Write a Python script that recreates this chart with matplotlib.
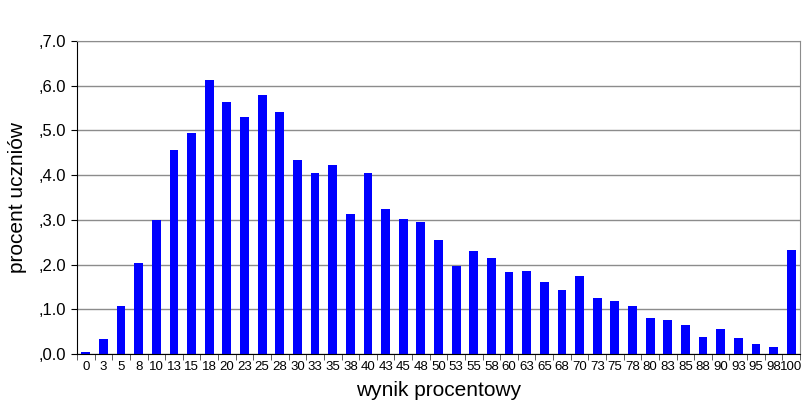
import numpy as np
import matplotlib
matplotlib.use("Agg")
import matplotlib.pyplot as plt

plt.rcParams['font.family'] = ['Liberation Sans', 'DejaVu Sans']

# wynik procentowy (score categories) and percent of students
wynik = ["0","3","5","8","10","13","15","18","20","23","25","28","30","33","35",
         "38","40","43","45","48","50","53","55","58","60","63","65","68","70",
         "73","75","78","80","83","85","88","90","93","95","98","100"]
procent = [0.05,0.34,1.07,2.04,3.00,4.57,4.94,6.12,5.63,5.31,5.80,5.41,4.33,4.05,4.23,
           3.13,4.04,3.25,3.03,2.96,2.56,1.97,2.30,2.14,1.83,1.86,1.60,1.43,1.75,
           1.26,1.18,1.07,0.81,0.77,0.64,0.37,0.57,0.35,0.22,0.15,2.33]
yticks = [0,1,2,3,4,5,6,7]
ytick_labels = [",0.0",",1.0",",2.0",",3.0",",4.0",",5.0",",6.0",",7.0"]

fig = plt.figure(figsize=(8.12,4.15), dpi=100)
ax = fig.add_axes([77/812, 1-354/415, (800-77)/812, (354-41)/415])

x = np.arange(len(wynik))
ax.bar(x, procent, width=0.5, color='#0000ff', zorder=3)

ax.set_xlim(-0.5, len(wynik)-0.5)
ax.set_ylim(0, 7)
ax.set_yticks(yticks)
ax.set_yticklabels(ytick_labels, fontsize=12)
ax.set_xticks(x)
ax.set_xticklabels(wynik, fontsize=9.5)
ax.tick_params(axis='x', length=0, pad=5)
ax.tick_params(axis='y', length=4, direction='out', pad=4)
# small marks between categories
ax.set_xticks(np.arange(-0.5, len(wynik)), minor=True)
ax.tick_params(axis='x', which='minor', length=4, direction='out', color='#444444')

ax.grid(axis='y', color='#8c8c8c', lw=1, zorder=0)
ax.spines['left'].set_color('black')
ax.spines['bottom'].set_color('black')
ax.spines['top'].set_color('#8c8c8c')
ax.spines['right'].set_color('#8c8c8c')
ax.spines['bottom'].set_zorder(4)

ax.set_ylabel("procent uczniów", fontsize=15, labelpad=8)
ax.set_xlabel("wynik procentowy", fontsize=15, labelpad=6)

plt.savefig("out.png", dpi=100)
